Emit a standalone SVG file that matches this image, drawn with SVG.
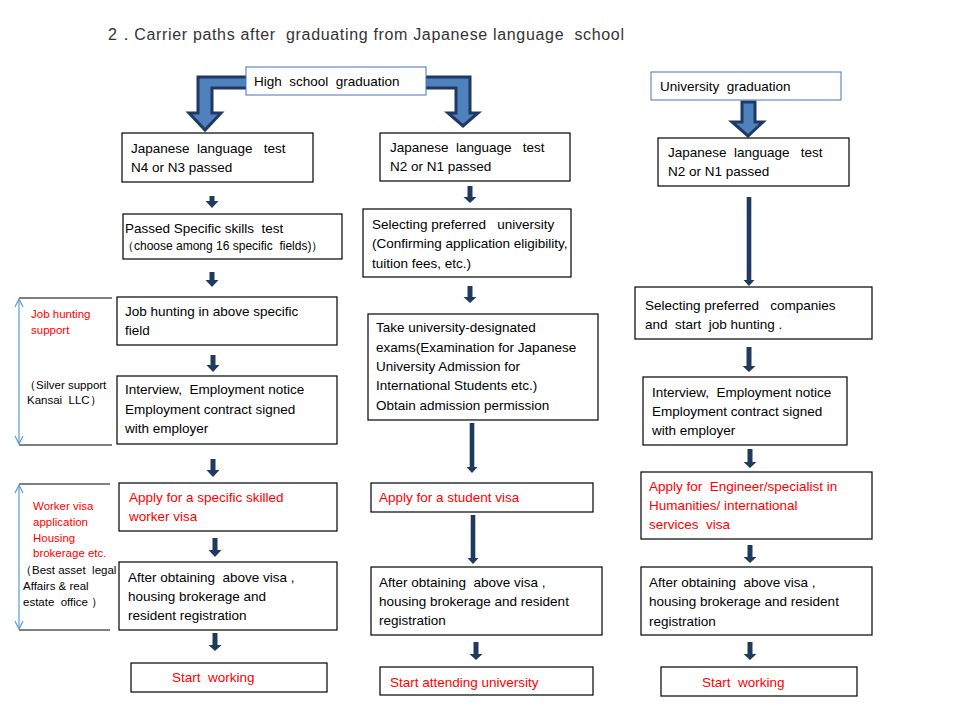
<svg xmlns="http://www.w3.org/2000/svg" width="960" height="720" viewBox="0 0 960 720">
<defs>
<style>
text{font-family:"Liberation Sans",Arial,sans-serif;font-size:13.5px;fill:#000;white-space:pre}
.red{fill:#ff0000}
.sm{font-size:12px}
.note{font-size:11.5px}
.box{fill:#fff;stroke:#000;stroke-width:1.2}
.bbox{fill:#fff;stroke:#4472c4;stroke-width:1}
.arr{fill:#1f3a5f;stroke:none}
.big{fill:#4f81bd;stroke:#1f3864;stroke-width:3;stroke-linejoin:miter}
.brk{stroke:#000;stroke-width:1;fill:none}
.dbl{stroke:#5b9bd5;stroke-width:1.2;fill:none}
</style>
<marker id="oa" viewBox="0 0 10 10" refX="9" refY="5" markerWidth="10" markerHeight="10" markerUnits="userSpaceOnUse" orient="auto-start-reverse">
<path d="M1,1 L9,5 L1,9" fill="none" stroke="#5b9bd5" stroke-width="1.2"/>
</marker>
</defs>
<rect width="960" height="720" fill="#fff"/>
<text x="108" y="40" style="font-size:16px;fill:#333" textLength="516">2．Carrier paths after  graduating from Japanese language  school</text>

<g id="connectors">
<path class="big" d="M250,77 L198,77 L198,113 L189,113 L205,130 L221,113 L212,113 L212,88 L250,88 Z"/>
<path class="big" d="M422,77 L470,77 L470,113 L478,113 L463,126 L448,113 L456,113 L456,88 L422,88 Z"/>
<path class="big" d="M742,102 L742,122 L732,122 L748,136 L763,122 L755,122 L755,102 Z"/>
<polygon class="arr" points="209.5,196 214.5,196 214.5,201 218.5,201 212,208 205.5,201 209.5,201"/>
<polygon class="arr" points="209.5,272 214.5,272 214.5,280 218.5,280 212,287 205.5,280 209.5,280"/>
<polygon class="arr" points="210.5,355 215.5,355 215.5,365 219.5,365 213,372 206.5,365 210.5,365"/>
<polygon class="arr" points="210.5,459 215.5,459 215.5,470 219.5,470 213,477 206.5,470 210.5,470"/>
<polygon class="arr" points="212.5,538 217.5,538 217.5,550 221.5,550 215,557 208.5,550 212.5,550"/>
<polygon class="arr" points="212.5,633 217.5,633 217.5,645 221.5,645 215,651 208.5,645 212.5,645"/>
<polygon class="arr" points="467.5,186 472.5,186 472.5,197 476.5,197 470,203 463.5,197 467.5,197"/>
<polygon class="arr" points="467.5,286 472.5,286 472.5,297 476.5,297 470,303 463.5,297 467.5,297"/>
<polygon class="arr" points="469.7,423 474.3,423 474.3,467 477.5,467 472,473 466.5,467 469.7,467"/>
<polygon class="arr" points="470.7,515 475.3,515 475.3,558 478.5,558 473,564 467.5,558 470.7,558"/>
<polygon class="arr" points="473.5,642 478.5,642 478.5,654 482.5,654 476,660 469.5,654 473.5,654"/>
<polygon class="arr" points="746.7,197 751.3,197 751.3,280 754.5,280 749,286 743.5,280 746.7,280"/>
<polygon class="arr" points="746.5,347 751.5,347 751.5,366 755.5,366 749,372 742.5,366 746.5,366"/>
<polygon class="arr" points="747.5,449 752.5,449 752.5,462 756.5,462 750,468 743.5,462 747.5,462"/>
<polygon class="arr" points="747.5,545 752.5,545 752.5,557 756.5,557 750,563 743.5,557 747.5,557"/>
<polygon class="arr" points="747.5,642 752.5,642 752.5,654 756.5,654 750,660 743.5,654 747.5,654"/>
</g>

<g id="hs">
<rect class="bbox" x="246" y="67" width="180" height="28"/>
<text x="254" y="86">High  school  graduation</text>
</g>
<g id="ug">
<rect class="bbox" x="651" y="72" width="190" height="28"/>
<text x="660" y="91">University  graduation</text>
</g>

<g id="l1"><rect class="box" x="122" y="133" width="191" height="49"/>
<text x="131" y="153">Japanese  language   test</text><text x="131" y="172">N4 or N3 passed</text></g>
<g id="l2"><rect class="box" x="123" y="214" width="219" height="45"/>
<text x="125" y="233">Passed Specific skills  test</text><text x="122" y="250" class="sm">（choose among 16 specific  fields)）</text></g>
<g id="l3"><rect class="box" x="117" y="297" width="220" height="48"/>
<text x="125" y="316">Job hunting in above specific</text><text x="125" y="335">field</text></g>
<g id="l4"><rect class="box" x="117" y="376" width="220" height="68"/>
<text x="125" y="394">Interview,  Employment notice</text><text x="125" y="414">Employment contract signed</text><text x="125" y="433">with employer</text></g>
<g id="l5"><rect class="box" x="119" y="483" width="218" height="48"/>
<text x="129" y="502" class="red">Apply for a specific skilled</text><text x="129" y="521" class="red">worker visa</text></g>
<g id="l6"><rect class="box" x="119" y="562" width="218" height="68"/>
<text x="128" y="582">After obtaining  above visa ,</text><text x="128" y="601">housing brokerage and</text><text x="128" y="620">resident registration</text></g>
<g id="l7"><rect class="box" x="131" y="663" width="196" height="29"/>
<text x="172" y="682" class="red">Start  working</text></g>

<g id="m1"><rect class="box" x="380" y="133" width="190" height="48"/>
<text x="390" y="152">Japanese  language   test</text><text x="390" y="171">N2 or N1 passed</text></g>
<g id="m2"><rect class="box" x="363" y="209" width="208" height="68"/>
<text x="372" y="229">Selecting preferred   university</text><text x="372" y="248">(Confirming application eligibility,</text><text x="372" y="268">tuition fees, etc.)</text></g>
<g id="m3"><rect class="box" x="368" y="314" width="230" height="106"/>
<text x="376" y="332">Take university-designated</text><text x="376" y="352">exams(Examination for Japanese</text><text x="376" y="371">University Admission for</text><text x="376" y="390">International Students etc.)</text><text x="376" y="410">Obtain admission permission</text></g>
<g id="m4"><rect class="box" x="371" y="483" width="222" height="29"/>
<text x="379" y="502" class="red">Apply for a student visa</text></g>
<g id="m5"><rect class="box" x="371" y="567" width="231" height="68"/>
<text x="379" y="587">After obtaining  above visa ,</text><text x="379" y="606">housing brokerage and resident</text><text x="379" y="625">registration</text></g>
<g id="m6"><rect class="box" x="380" y="667" width="213" height="28"/>
<text x="390" y="687" class="red">Start attending university</text></g>

<g id="r1"><rect class="box" x="658" y="138" width="191" height="48"/>
<text x="668" y="157">Japanese  language   test</text><text x="668" y="176">N2 or N1 passed</text></g>
<g id="r2"><rect class="box" x="635" y="287" width="237" height="52"/>
<text x="645" y="310">Selecting preferred   companies</text><text x="645" y="329">and  start  job hunting .</text></g>
<g id="r3"><rect class="box" x="643" y="377" width="204" height="68"/>
<text x="652" y="397">Interview,  Employment notice</text><text x="652" y="416">Employment contract signed</text><text x="652" y="435">with employer</text></g>
<g id="r4"><rect class="box" x="641" y="472" width="231" height="67"/>
<text x="649" y="491" class="red">Apply for  Engineer/specialist in</text><text x="649" y="510" class="red">Humanities/ international</text><text x="649" y="529" class="red">services  visa</text></g>
<g id="r5"><rect class="box" x="641" y="567" width="231" height="68"/>
<text x="649" y="587">After obtaining  above visa ,</text><text x="649" y="606">housing brokerage and resident</text><text x="649" y="626">registration</text></g>
<g id="r6"><rect class="box" x="661" y="667" width="196" height="29"/>
<text x="702" y="687" class="red">Start  working</text></g>

<g id="ann1">
<line class="brk" x1="19" y1="298" x2="112" y2="298"/>
<line class="brk" x1="19" y1="445" x2="112" y2="445"/>
<line class="dbl" x1="19" y1="299" x2="19" y2="444" marker-start="url(#oa)" marker-end="url(#oa)"/>
<text x="31" y="318" class="note red">Job hunting</text><text x="31" y="334" class="note red">support</text>
<text x="24" y="389" class="note">（Silver support</text><text x="27" y="404" class="note">Kansai  LLC）</text>
</g>
<g id="ann2">
<line class="brk" x1="19" y1="484" x2="110" y2="484"/>
<line class="brk" x1="19" y1="630" x2="110" y2="630"/>
<line class="dbl" x1="19" y1="485" x2="19" y2="629" marker-start="url(#oa)" marker-end="url(#oa)"/>
<text x="33" y="510" class="note red">Worker visa</text><text x="33" y="526" class="note red">application</text><text x="33" y="542" class="note red">Housing</text><text x="33" y="557" class="note red">brokerage etc.</text>
<text x="20" y="574" class="note">（Best asset  legal</text><text x="23" y="590" class="note">Affairs &amp; real</text><text x="23" y="606" class="note">estate  office ）</text>
</g>
</svg>
